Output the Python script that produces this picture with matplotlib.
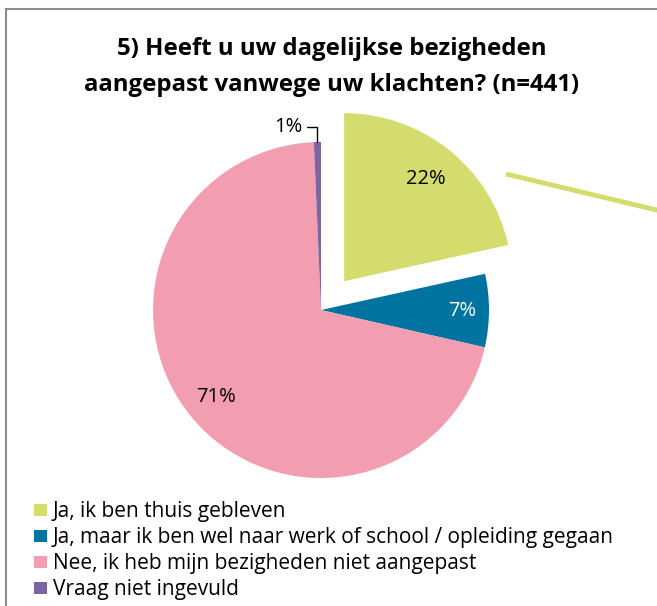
import matplotlib
matplotlib.use("Agg")
import matplotlib.pyplot as plt
import numpy as np
from matplotlib.patches import Rectangle
from matplotlib.lines import Line2D

plt.rcParams['font.family'] = ['Open Sans', 'DejaVu Sans']

title = "5) Heeft u uw dagelijkse bezigheden\naangepast vanwege uw klachten? (n=441)"
categories = ["Ja, ik ben thuis gebleven",
              "Ja, maar ik ben wel naar werk of school / opleiding gegaan",
              "Nee, ik heb mijn bezigheden niet aangepast",
              "Vraag niet ingevuld"]
counts = [95, 31, 312, 3]
colors = ['#D3DC6D', '#0073A1', '#F29DB0', '#8064A2']
explode = [0.22, 0, 0, 0]

W, H = 657, 606
fig = plt.figure(figsize=(W / 100, H / 100), dpi=100)

# pie centre (321, 310) px, radius 168 px
cx, cy, r = 321, 310, 168
ax = fig.add_axes([(cx - r) / W, (H - cy - r) / H, 2 * r / W, 2 * r / H])
wedges, _ = ax.pie(counts, colors=colors, explode=explode, startangle=90,
                   counterclock=False, radius=1,
                   wedgeprops=dict(linewidth=0))
ax.set_xlim(-1, 1)
ax.set_ylim(-1, 1)
ax.set_aspect('equal')
ax.axis('off')
for w in wedges:
    w.set_clip_on(False)

total = sum(counts)
pct_r = [0.78, 0.84, 0.81]
pct_col = ['black', 'white', 'black']
for i in range(3):
    w = wedges[i]
    mid = np.deg2rad((w.theta1 + w.theta2) / 2)
    x0, y0 = w.center
    ax.text(x0 + pct_r[i] * np.cos(mid), y0 + pct_r[i] * np.sin(mid),
            f"{100 * counts[i] / total:.0f}%", ha='center', va='center',
            fontsize=14.5, color=pct_col[i])

# small slice label with leader
w = wedges[3]
mid = np.deg2rad((w.theta1 + w.theta2) / 2)
ax.annotate(f"{max(1, round(100 * counts[3] / total))}%",
            xy=(np.cos(mid), np.sin(mid)), xytext=(-0.11, 1.09),
            ha='right', va='center', fontsize=14.5, annotation_clip=False,
            arrowprops=dict(arrowstyle='-', color='black', lw=1,
                            shrinkA=1, shrinkB=0,
                            connectionstyle='angle,angleA=0,angleB=90,rad=0'))

# stray leader line from the exploded slice
fig.add_artist(Line2D([506 / W, 665 / W], [1 - 174 / H, 1 - 212 / H],
                      color=colors[0], lw=3.5, solid_capstyle='butt'))

# chart frame
fig.add_artist(Rectangle((6 / W, -0.1), 1.2, 1 - 9 / H + 0.1, fill=False,
                         edgecolor='#8C8C8C', lw=1.5, transform=fig.transFigure))

fig.text(332 / W, 1 - 67 / H, title, ha='center', va='center',
         fontsize=17.3, fontweight='bold', linespacing=1.65)

# legend, drawn row by row
row_y = 510
for c, lab in zip(colors, categories):
    fig.add_artist(Rectangle((34 / W, 1 - (row_y + 6) / H), 12.5 / W, 12.5 / H,
                             facecolor=c, edgecolor='none',
                             transform=fig.transFigure))
    fig.text(53 / W, 1 - (row_y + 1) / H, lab, ha='left', va='center',
             fontsize=15)
    row_y += 26

fig.savefig("out.png", dpi=100)
